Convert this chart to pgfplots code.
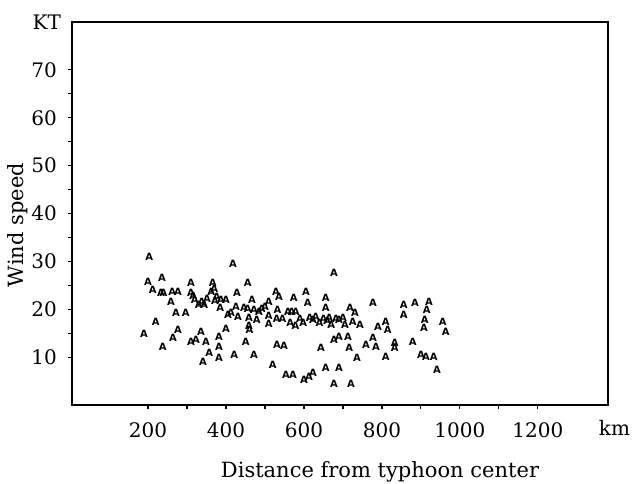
\documentclass[border=0pt]{standalone}
\usepackage{pgfplots}
\pgfplotsset{compat=1.18}
\usepackage{fontspec}
\setmainfont{DejaVu Serif}
\newfontfamily\markfont{DejaVu Sans}
\pgfplotstableread{
x y
203 31
200 25.8
212 24.1
190 14.8
220 17.4
236 26.6
233 23.5
240 23.5
238 12.1
259 21.6
262 23.7
277 23.7
272 19.3
264 14.0
277 15.7
297 19.3
310 25.6
310 23.5
316 22.8
320 22.0
310 13.2
323 13.6
330 21.0
338 21.5
344 21.0
351 22.2
336 15.3
341 9.0
349 13.2
357 10.8
366 25.6
362 23.6
370 24.2
376 22.5
372 21.8
382 14.2
382 12.1
382 9.8
387 22.0
385 20.3
400 22.0
400 15.9
405 18.9
413 19.3
418 29.4
421 10.4
426 20.5
431 18.4
428 23.5
446 20.3
451 13.2
456 25.6
456 20.0
459 18.3
459 16.5
460 15.8
467 22.0
472 19.9
472 10.4
479 17.8
485 19.5
492 20.0
500 20.5
510 21.6
510 18.6
510 16.9
520 8.3
528 23.7
536 22.6
532 19.9
530 17.9
545 17.9
531 12.5
549 12.3
554 6.2
572 6.2
559 19.5
569 19.4
579 19.4
565 17.2
578 16.5
574 22.4
590 18.0
598 17.2
605 23.7
610 21.4
600 5.2
613 5.8
623 6.8
615 18.3
623 17.8
630 18.5
640 17.2
644 11.9
650 18.0
656 22.4
656 20.3
656 7.7
660 17.5
665 18.2
670 16.8
677 27.5
677 13.6
677 4.5
682 18.0
690 17.8
690 14.2
690 7.7
700 18.2
705 16.8
713 14.2
716 11.9
718 20.3
721 4.5
725 17.3
731 19.3
736 9.8
744 16.7
759 12.5
777 21.4
777 14.0
785 12.1
790 16.3
810 17.4
815 15.7
810 10.0
833 13.0
833 11.9
856 21.0
856 18.9
885 21.4
879 13.2
900 10.4
913 10.0
908 16.1
910 17.8
915 19.9
921 21.6
933 10.0
941 7.3
956 17.4
964 15.3
}\windtable
\begin{document}
\begin{tikzpicture}
\useasboundingbox (0,0) rectangle (316pt,241.5pt);
\begin{axis}[
  at={(36pt,39pt)}, anchor=south west,
  scale only axis, width=268pt, height=191.5pt,
  xmin=5, xmax=1380, ymin=0, ymax=80,
  axis line style={line width=0.8pt},
  xtick={200,400,...,1200}, minor x tick num=1,
  ytick={10,20,...,70}, minor y tick num=1,
  extra y ticks={80}, extra y tick labels={KT},
  extra y tick style={major tick length=0pt},
  tick pos=left, tick align=outside,
  major tick length=2pt, minor tick length=2pt,
  tick style={line width=0.6pt, black},
  ticklabel style={font=\fontsize{10}{12}\selectfont},
  /pgf/number format/assume math mode=true,
  /pgf/number format/1000 sep={},
  xticklabel style={anchor=base, yshift=-14pt},
  yticklabel style={anchor=east, xshift=-2pt},
  clip=false,
]
\addplot[only marks, mark=text,
  text mark={\markfont\bfseries\fontsize{5}{5}\selectfont A}]
  table[x=x, y=y] {\windtable};
\node[anchor=base, yshift=-15pt, font=\fontsize{10}{12}\selectfont] at (rel axis cs:1.012,0) {km};
\end{axis}
\node[rotate=90, font=\fontsize{10.5}{12}\selectfont] at (9pt,129pt) {Wind speed};
\node[anchor=base, font=\fontsize{10.5}{12}\selectfont] at (190pt,3pt) {Distance from typhoon center};
\end{tikzpicture}
\end{document}
